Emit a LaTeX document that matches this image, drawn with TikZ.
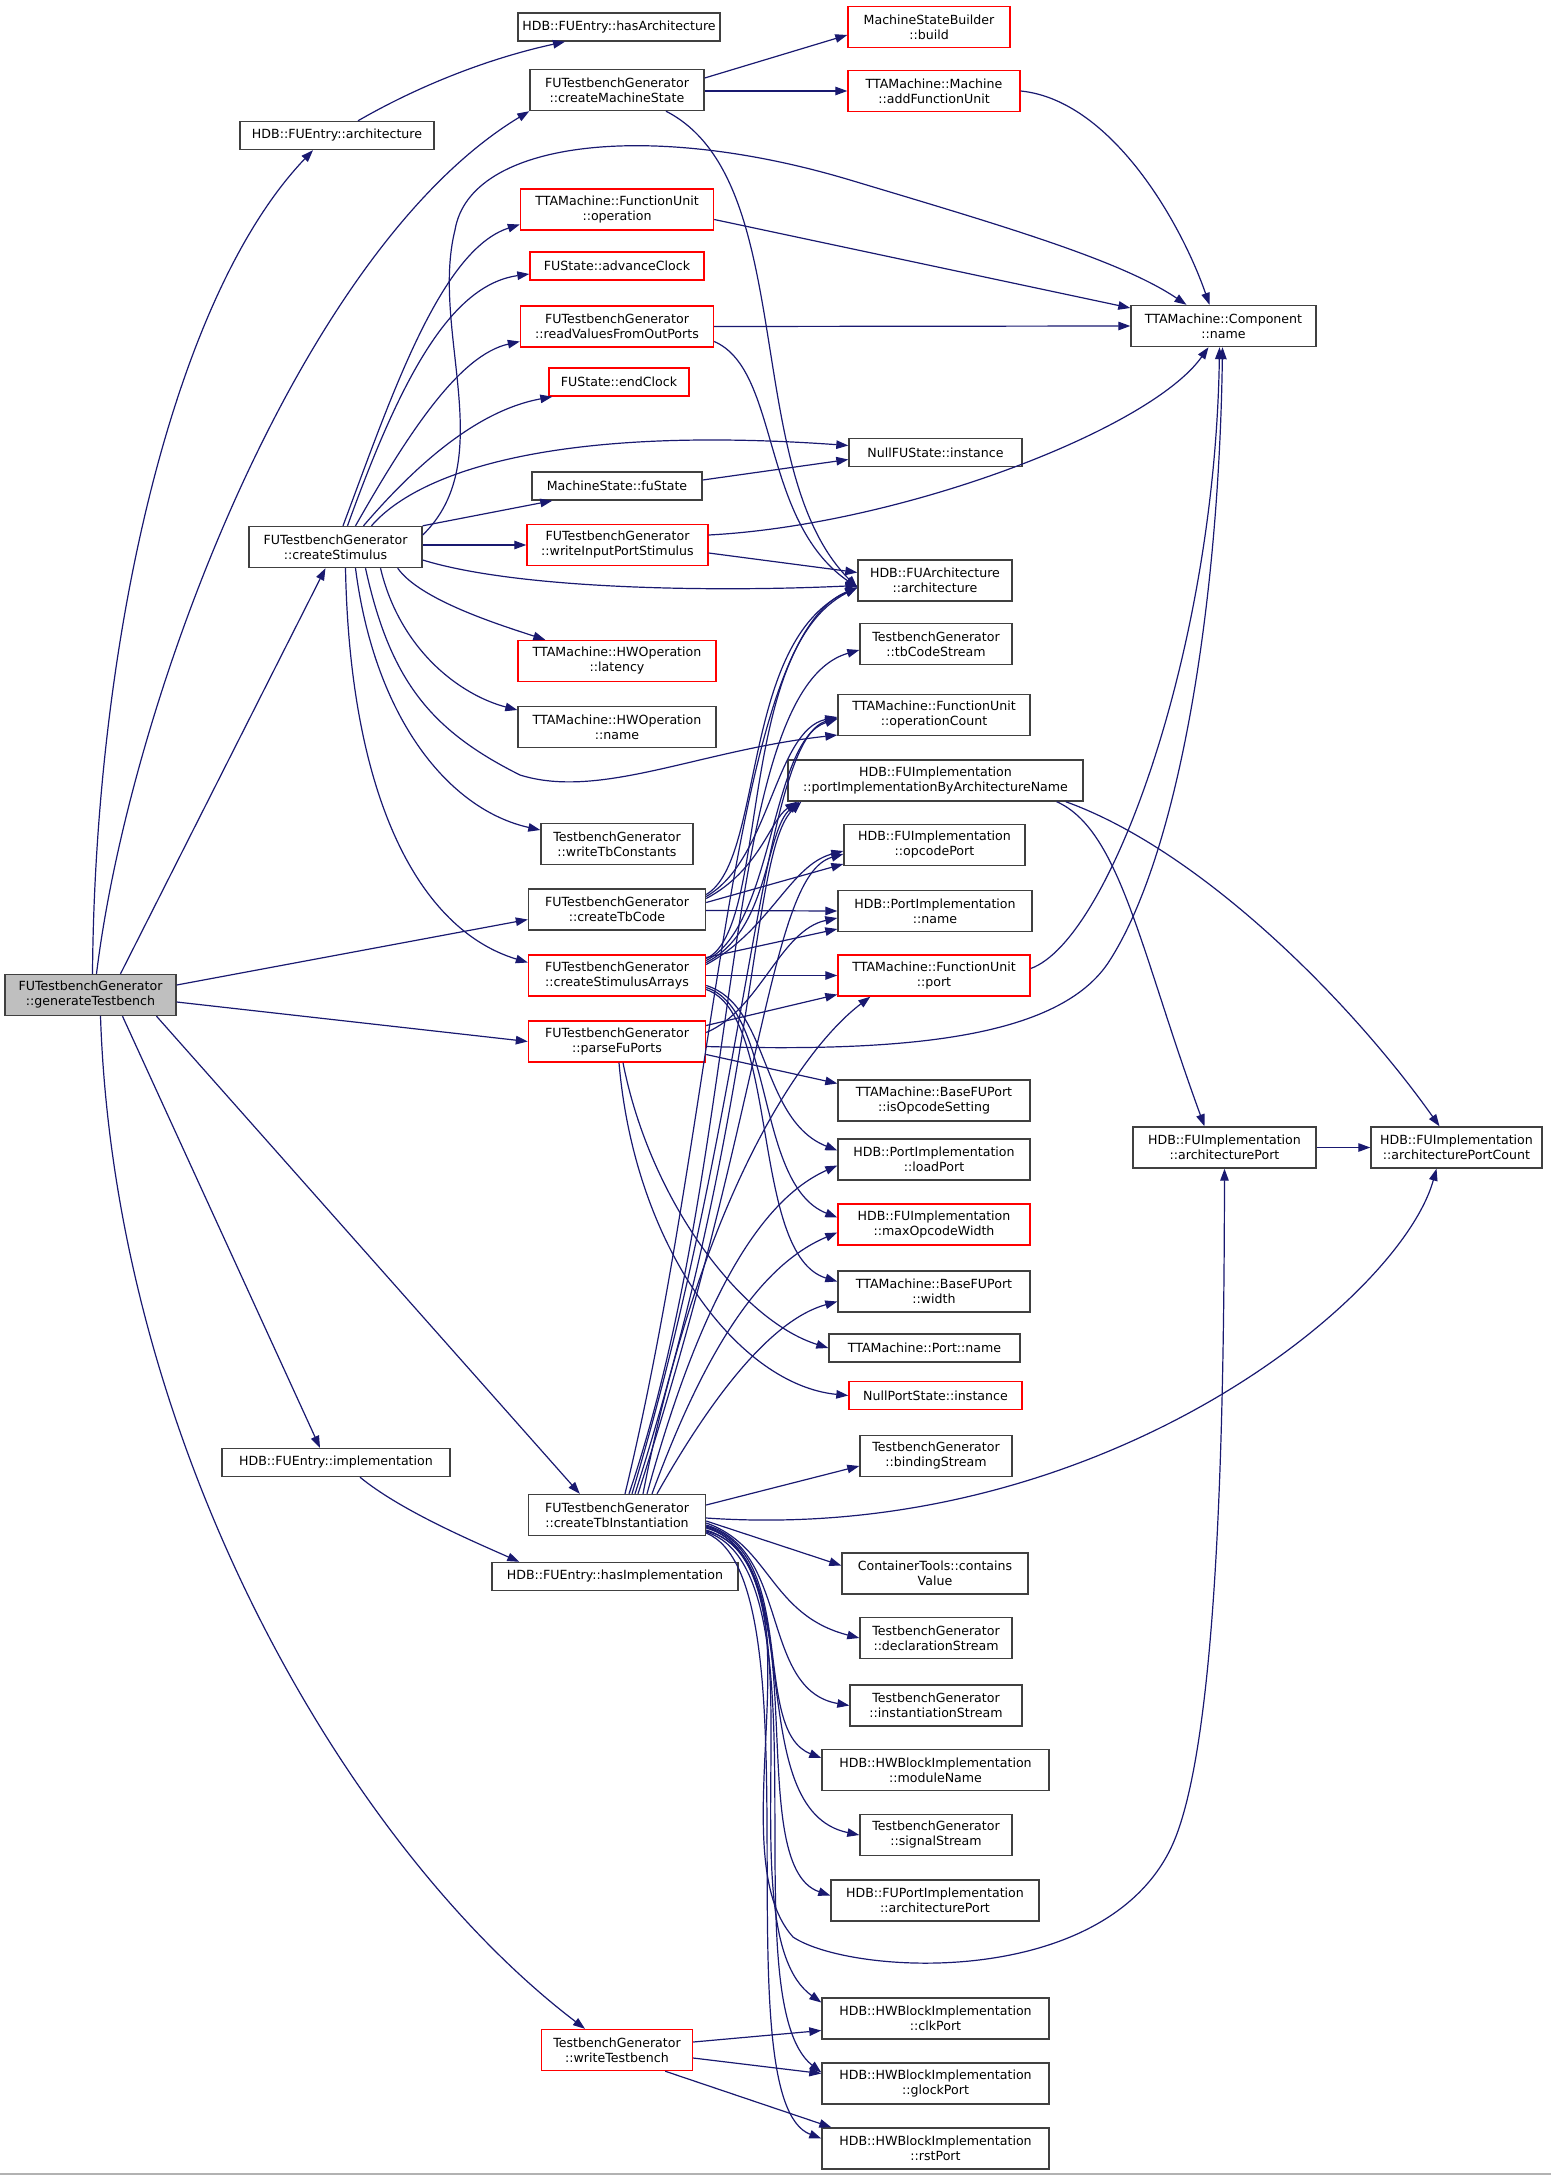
\documentclass[tikz,border=0pt]{standalone}
\usepackage{fontspec}
\setmainfont{DejaVu Sans}
\usetikzlibrary{arrows.meta,calc}
\definecolor{edgeblue}{HTML}{191970}
\definecolor{curgray}{HTML}{BFBFBF}
\definecolor{boxline}{HTML}{404040}
\tikzset{
    fn/.style={rectangle, draw=boxline, line width=1.4pt, fill=white, align=center,
        inner xsep=2pt, inner ysep=0pt, minimum height=41pt,
        font=\fontsize{12.6}{15}\selectfont},
    fnone/.style={fn, minimum height=28pt},
    trunc/.style={draw=red},
    current/.style={fill=curgray},
    call/.style={draw=edgeblue, line width=1.2pt, -{Triangle[length=12pt,width=8.5pt]}},
}
\begin{document}
\begin{tikzpicture}[x=1pt,y=-1pt]
        \useasboundingbox (0,0) rectangle (1551,2175);
        \draw[gray!60, line width=2pt] (0,2174) -- (1551,2174);

        % left
        \node [fn, current, minimum width=171pt] (gen) at (90.5,995) {FUTestbenchGenerator\\::generateTestbench};
        \node [fnone, minimum width=194pt] (archE) at (337,135.5) {HDB::FUEntry::architecture};
        \node [fn, minimum width=173pt] (stim) at (335.5,547) {FUTestbenchGenerator\\::createStimulus};
        \node [fnone, minimum width=228pt] (implE) at (336,1462.5) {HDB::FUEntry::implementation};

        % middle
        \node [fnone, minimum width=202pt] (hasArch) at (619,27) {HDB::FUEntry::hasArchitecture};
        \node [fn, minimum width=174pt] (cms) at (617,90) {FUTestbenchGenerator\\::createMachineState};
        \node [fn, trunc, minimum width=193pt] (fuOp) at (617,209.5) {TTAMachine::FunctionUnit\\::operation};
        \node [fnone, trunc, minimum width=174pt] (advClk) at (617,266) {FUState::advanceClock};
        \node [fn, trunc, minimum width=193pt] (readVal) at (617,326.5) {FUTestbenchGenerator\\::readValuesFromOutPorts};
        \node [fnone, trunc, minimum width=140pt] (endClk) at (619,382) {FUState::endClock};
        \node [fnone, minimum width=170pt] (fuState) at (617,486) {MachineState::fuState};
        \node [fn, trunc, minimum width=181pt] (writeIn) at (617.5,545) {FUTestbenchGenerator\\::writeInputPortStimulus};
        \node [fn, trunc, minimum width=198pt] (latency) at (617,661) {TTAMachine::HWOperation\\::latency};
        \node [fn, minimum width=198pt] (hwName) at (617,727) {TTAMachine::HWOperation\\::name};
        \node [fn, minimum width=152pt] (writeTbC) at (617,844) {TestbenchGenerator\\::writeTbConstants};
        \node [fn, minimum width=177pt] (tbcode) at (617,909.5) {FUTestbenchGenerator\\::createTbCode};
        \node [fn, trunc, minimum width=177pt] (stimArr) at (617,975.5) {FUTestbenchGenerator\\::createStimulusArrays};
        \node [fn, trunc, minimum width=177pt] (parse) at (617,1041.5) {FUTestbenchGenerator\\::parseFuPorts};
        \node [fn, minimum width=177pt] (inst) at (617,1515) {FUTestbenchGenerator\\::createTbInstantiation};
        \node [fnone, minimum width=246pt] (hasImpl) at (615,1576.5) {HDB::FUEntry::hasImplementation};
        \node [fn, trunc, minimum width=151pt] (writeTb) at (617,2050) {TestbenchGenerator\\::writeTestbench};

        % right
        \node [fn, trunc, minimum width=162pt] (build) at (929,27) {MachineStateBuilder\\::build};
        \node [fn, trunc, minimum width=172pt] (addFU) at (934,91) {TTAMachine::Machine\\::addFunctionUnit};
        \node [fnone, minimum width=173pt] (nullFU) at (935.5,452.5) {NullFUState::instance};
        \node [fn, minimum width=154pt] (fuArch) at (935,580.5) {HDB::FUArchitecture\\::architecture};
        \node [fn, minimum width=152pt] (tbCS) at (936,644) {TestbenchGenerator\\::tbCodeStream};
        \node [fn, minimum width=192pt] (opCount) at (934,715) {TTAMachine::FunctionUnit\\::operationCount};
        \node [fn, minimum width=295pt] (portImpl) at (935.5,780.5) {HDB::FUImplementation\\::portImplementationByArchitectureName};
        \node [fn, minimum width=181pt] (opcPort) at (934.5,845) {HDB::FUImplementation\\::opcodePort};
        \node [fn, minimum width=194pt] (piName) at (935,911) {HDB::PortImplementation\\::name};
        \node [fn, trunc, minimum width=192pt] (fuPort) at (934,975.5) {TTAMachine::FunctionUnit\\::port};
        \node [fn, minimum width=192pt] (opcSet) at (934,1100.5) {TTAMachine::BaseFUPort\\::isOpcodeSetting};
        \node [fn, minimum width=192pt] (loadPort) at (934,1159.5) {HDB::PortImplementation\\::loadPort};
        \node [fn, trunc, minimum width=192pt] (maxOpc) at (934,1224.5) {HDB::FUImplementation\\::maxOpcodeWidth};
        \node [fn, minimum width=192pt] (bfWidth) at (934,1291.5) {TTAMachine::BaseFUPort\\::width};
        \node [fnone, minimum width=191pt] (portName) at (924.5,1348) {TTAMachine::Port::name};
        \node [fnone, trunc, minimum width=173pt] (nullPort) at (935.5,1395.5) {NullPortState::instance};
        \node [fn, minimum width=152pt] (binding) at (936,1456) {TestbenchGenerator\\::bindingStream};
        \node [fn, minimum width=186pt] (contains) at (935,1573.5) {ContainerTools::contains\\Value};
        \node [fn, minimum width=152pt] (decl) at (936,1638) {TestbenchGenerator\\::declarationStream};
        \node [fn, minimum width=172pt] (instStream) at (936,1705.5) {TestbenchGenerator\\::instantiationStream};
        \node [fn, minimum width=227pt] (modName) at (935.5,1770) {HDB::HWBlockImplementation\\::moduleName};
        \node [fn, minimum width=152pt] (sigStream) at (936,1835) {TestbenchGenerator\\::signalStream};
        \node [fn, minimum width=208pt] (fuPortArch) at (935,1900.5) {HDB::FUPortImplementation\\::architecturePort};
        \node [fn, minimum width=227pt] (clk) at (935.5,2018.5) {HDB::HWBlockImplementation\\::clkPort};
        \node [fn, minimum width=227pt] (glock) at (935.5,2083.5) {HDB::HWBlockImplementation\\::glockPort};
        \node [fn, minimum width=227pt] (rst) at (935.5,2148.5) {HDB::HWBlockImplementation\\::rstPort};

        % far right
        \node [fn, minimum width=185pt] (compName) at (1223.5,326) {TTAMachine::Component\\::name};
        \node [fn, minimum width=183pt] (archPort) at (1224.5,1147.5) {HDB::FUImplementation\\::architecturePort};
        \node [fn, minimum width=171pt] (archPortCnt) at (1456.5,1147.5) {HDB::FUImplementation\\::architecturePortCount};

        % calls of generateTestbench
        \draw[call] ($(gen.north)+(2,0)$) .. controls (95,650) and (170,300) .. ($(archE.south)+(-24,0)$);
        \draw[call] ($(gen.north)+(6,0)$) .. controls (130,700) and (300,250) .. (cms.south west);
        \draw[call] ($(gen.north)+(30,0)$) -- ($(stim.south)+(-10,0)$);
        \draw[call] ($(gen.east)+(0,-10)$) -- ($(tbcode.west)+(0,10)$);
        \draw[call] ($(gen.east)+(0,7)$) -- (parse.west);
        \draw[call] ($(gen.south)+(32,0)$) -- ($(implE.north)+(-16,0)$);
        \draw[call] ($(gen.south)+(66,0)$) -- ($(inst.north west)+(52,0)$);
        \draw[call] ($(gen.south)+(10,0)$) .. controls (115,1450) and (350,1850) .. ($(writeTb.north)+(-32,0)$);

        \draw[call] ($(archE.north)+(21,0)$) .. controls (420,85) and (490,58) .. ($(hasArch.south)+(-54,0)$);
        \draw[call] ($(cms.east)+(0,-12)$) -- ($(build.west)+(0,8)$);
        \draw[call] ($(cms.east)+(0,1)$) -- (addFU.west);
        \draw[call] ($(cms.south)+(49,0)$) .. controls (800,180) and (740,470) .. ($(fuArch.west)+(0,7)$);
        \draw[call] (addFU.east) .. controls (1110,100) and (1180,220) .. ($(compName.north)+(-14,0)$);

        % calls of createStimulus
        \draw[call] ($(stim.north)+(7.5,0)$) .. controls (390,400) and (440,250) .. ($(fuOp.west)+(0,15)$);
        \draw[call] ($(stim.north)+(12,0)$) .. controls (400,380) and (450,285) .. ($(advClk.west)+(0,8)$);
        \draw[call] ($(stim.north)+(20,0)$) .. controls (410,430) and (460,355) .. ($(readVal.west)+(0,15)$);
        \draw[call] ($(stim.north)+(28,0)$) .. controls (420,460) and (480,410) .. ($(endClk.south west)+(4,0)$);
        \draw[call] ($(stim.north)+(36,0)$) .. controls (420,470) and (560,425) .. ($(nullFU.west)+(0,-7)$);
        \draw[call] (stim.north east) -- ($(fuState.south west)+(21,0)$);
        \draw[call] ($(stim.east)+(0,-2)$) -- (writeIn.west);
        \draw[call] ($(stim.east)+(0,13)$) .. controls (520,590) and (720,592) .. ($(fuArch.west)+(0,5)$);
        \draw[call] ($(stim.south east)+(-25,0)$) .. controls (420,600) and (500,625) .. ($(latency.north west)+(28,0)$);
        \draw[call] ($(stim.south)+(45,0)$) .. controls (400,650) and (460,695) .. ($(hwName.west)+(0,-17)$);
        \draw[call] ($(stim.south)+(30,0)$) .. controls (390,680) and (430,730) .. (520,775)
            .. controls (600,800) and (700,750) .. ($(opCount.west)+(0,20)$);
        \draw[call] ($(stim.south)+(20,0)$) .. controls (375,720) and (450,810) .. ($(writeTbC.west)+(0,-14)$);
        \draw[call] ($(stim.south)+(10,0)$) .. controls (350,800) and (420,930) .. ($(stimArr.west)+(0,-13)$);
        \draw[call] ($(stim.east)+(0,-12)$) .. controls (500,460) and (430,330) .. (455,230)
            .. controls (470,140) and (650,120) .. (850,180)
            .. controls (1000,225) and (1120,260) .. ($(compName.north)+(-37,0)$);

        \draw[call] ($(fuOp.east)+(0,10)$) -- ($(compName.west)+(0,-18)$);
        \draw[call] (readVal.east) -- (compName.west);
        \draw[call] ($(readVal.east)+(0,15)$) .. controls (780,370) and (760,520) .. ($(fuArch.west)+(0,7)$);
        \draw[call] ($(fuState.east)+(0,-6)$) -- ($(nullFU.west)+(0,7)$);
        \draw[call] ($(writeIn.east)+(0,-10)$) .. controls (900,525) and (1150,430) .. ($(compName.south)+(-15,0)$);
        \draw[call] ($(writeIn.east)+(0,8)$) -- ($(fuArch.west)+(0,-8)$);
        \draw[call] ($(fuPort.east)+(0,-7)$) .. controls (1110,940) and (1215,650) .. ($(compName.south)+(-4,0)$);
        \draw[call] ($(portImpl.south east)+(-27,0)$) .. controls (1120,830) and (1140,950) .. ($(archPort.north)+(-20,0)$);
        \draw[call] ($(portImpl.south east)+(-18,0)$) .. controls (1200,850) and (1350,1000) .. ($(archPortCnt.north)+(-17,0)$);
        \draw[call] (archPort.east) -- (archPortCnt.west);

        % calls of createTbCode
        \draw[call] ($(tbcode.east)+(0,-15)$) .. controls (765,860) and (740,640) .. ($(fuArch.west)+(0,7)$);
        \draw[call] ($(tbcode.east)+(0,-13)$) .. controls (770,860) and (775,730) .. ($(opCount.west)+(0,2)$);
        \draw[call] ($(tbcode.east)+(0,-11)$) .. controls (760,870) and (770,820) .. ($(portImpl.south west)+(10,0)$);
        \draw[call] ($(tbcode.east)+(0,-7)$) -- ($(opcPort.west)+(0,19)$);
        \draw[call] ($(tbcode.east)+(0,1)$) -- (piName.west);

        % calls of createStimulusArrays
        \draw[call] ($(stimArr.east)+(0,-17)$) .. controls (770,930) and (735,650) .. ($(fuArch.west)+(0,7)$);
        \draw[call] ($(stimArr.east)+(0,-15)$) .. controls (775,925) and (770,740) .. ($(opCount.west)+(0,4)$);
        \draw[call] ($(stimArr.east)+(0,-13)$) .. controls (770,930) and (765,830) .. ($(portImpl.south west)+(12,0)$);
        \draw[call] ($(stimArr.east)+(0,-11)$) .. controls (770,930) and (790,865) .. ($(opcPort.west)+(0,6)$);
        \draw[call] ($(stimArr.east)+(0,-18)$) -- ($(piName.west)+(0,18)$);
        \draw[call] (stimArr.east) -- (fuPort.west);
        \draw[call] ($(stimArr.east)+(0,10)$) .. controls (770,1005) and (760,1120) .. ($(loadPort.west)+(0,-9)$);
        \draw[call] ($(stimArr.east)+(0,12)$) .. controls (775,1010) and (755,1185) .. ($(maxOpc.west)+(0,-7)$);
        \draw[call] ($(stimArr.east)+(0,14)$) .. controls (780,1015) and (750,1255) .. ($(bfWidth.west)+(0,-10)$);

        % calls of parseFuPorts
        \draw[call] ($(parse.east)+(0,-16)$) -- ($(fuPort.west)+(0,19)$);
        \draw[call] ($(parse.east)+(0,-9)$) .. controls (760,1010) and (780,930) .. ($(piName.west)+(0,7)$);
        \draw[call] ($(parse.east)+(0,5)$) .. controls (900,1052) and (1060,1040) .. (1110,960)
            .. controls (1180,850) and (1219,600) .. ($(compName.south)+(-1,0)$);
        \draw[call] ($(parse.east)+(0,13)$) -- ($(opcSet.west)+(0,-17)$);
        \draw[call] ($(parse.south)+(6,0)$) .. controls (650,1200) and (740,1320) .. (portName.west);
        \draw[call] ($(parse.south)+(2,0)$) .. controls (635,1250) and (740,1385) .. (nullPort.west);

        % calls of createTbInstantiation
        \draw[call] ($(inst.north)+(8,0)$) .. controls (720,1100) and (730,640) .. ($(fuArch.west)+(0,7)$);
        \draw[call] ($(inst.north)+(12,0)$) .. controls (745,1150) and (720,690) .. ($(tbCS.west)+(0,6)$);
        \draw[call] ($(inst.north)+(15,0)$) .. controls (750,1100) and (760,740) .. ($(opCount.west)+(0,3)$);
        \draw[call] ($(inst.north)+(18,0)$) .. controls (760,1100) and (750,850) .. ($(portImpl.south west)+(14,0)$);
        \draw[call] ($(inst.north)+(21,0)$) .. controls (765,1100) and (770,875) .. ($(opcPort.west)+(0,9)$);
        \draw[call] ($(inst.north)+(26,0)$) .. controls (700,1200) and (800,1050) .. ($(fuPort.south west)+(33,0)$);
        \draw[call] ($(inst.north)+(30,0)$) .. controls (700,1300) and (760,1200) .. ($(loadPort.west)+(0,6)$);
        \draw[call] ($(inst.north)+(35,0)$) .. controls (705,1350) and (760,1265) .. ($(maxOpc.west)+(0,8)$);
        \draw[call] ($(inst.north)+(40,0)$) .. controls (710,1400) and (770,1320) .. ($(bfWidth.west)+(0,10)$);
        \draw[call] ($(inst.east)+(0,-10)$) -- ($(binding.west)+(0,10)$);
        \draw[call] ($(inst.east)+(0,3)$) .. controls (1100,1545) and (1400,1300) .. ($(archPortCnt.south)+(-20,0)$);
        \draw[call] ($(inst.east)+(0,6)$) -- ($(contains.west)+(0,-8)$);
        \draw[call] ($(inst.east)+(0,8)$) .. controls (770,1545) and (770,1615) .. (decl.west);
        \draw[call] ($(inst.east)+(0,10)$) .. controls (790,1550) and (760,1690) .. (instStream.west);
        \draw[call] ($(inst.east)+(0,11)$) .. controls (800,1555) and (750,1730) .. ($(modName.west)+(0,-12)$);
        \draw[call] ($(inst.east)+(0,12)$) .. controls (810,1560) and (740,1810) .. (sigStream.west);
        \draw[call] ($(inst.east)+(0,13)$) .. controls (820,1560) and (740,1865) .. ($(fuPortArch.west)+(0,-5)$);
        \draw[call] ($(inst.east)+(0,15)$) .. controls (830,1570) and (715,1850) .. (793,1937)
            .. controls (850,1975) and (1100,1990) .. (1170,1850)
            .. controls (1220,1750) and (1224,1400) .. (archPort.south);
        \draw[call] ($(inst.east)+(0,16)$) .. controls (830,1560) and (720,1930) .. ($(clk.west)+(0,-16)$);
        \draw[call] ($(inst.east)+(0,17)$) .. controls (830,1570) and (730,2000) .. ($(glock.west)+(0,-11)$);
        \draw[call] ($(inst.east)+(0,18)$) .. controls (820,1580) and (720,2100) .. ($(rst.west)+(0,-10)$);

        \draw[call] ($(implE.south)+(24,0)$) .. controls (400,1510) and (470,1540) .. ($(hasImpl.north west)+(28,0)$);
        \draw[call] ($(writeTb.east)+(0,-8)$) -- ($(clk.west)+(0,12)$);
        \draw[call] ($(writeTb.east)+(0,8)$) -- ($(glock.west)+(0,-10)$);
        \draw[call] ($(writeTb.south east)+(-28,0)$) -- ($(rst.north west)+(10,0)$);
    \end{tikzpicture}
\end{document}
